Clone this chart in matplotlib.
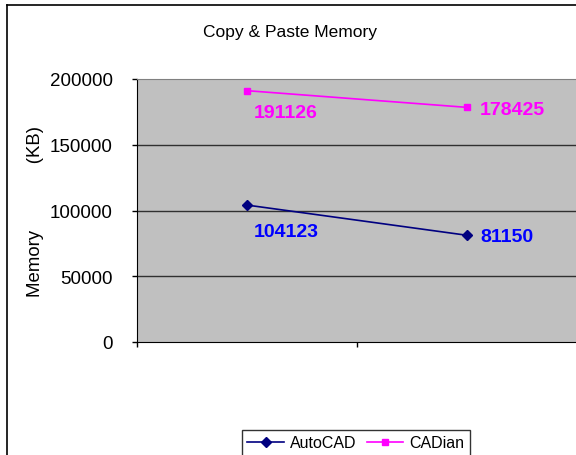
import matplotlib
matplotlib.use("Agg")
import matplotlib.pyplot as plt
from matplotlib.lines import Line2D

plt.rcParams['font.family'] = ['Liberation Sans', 'DejaVu Sans']

categories = ["Test 1", "Test 2"]
autocad = [104123, 81150]
cadian = [191126, 178425]
yticks = [0, 50000, 100000, 150000, 200000]

fig = plt.figure(figsize=(5.76, 4.56), dpi=100)
ax = fig.add_axes([137/576, 1-343/456, 440/576, 263/456])
ax.set_facecolor('#C0C0C0')

xs = [0.5, 1.5]
ax.plot(xs, autocad, color='#000080', marker='D', markersize=5, lw=1.2, label='AutoCAD')
ax.plot(xs, cadian, color='#FF00FF', marker='s', markersize=5, lw=1.2, label='CADian')

ax.set_xlim(0, 2)
ax.set_ylim(0, 200000)
ax.set_yticks(yticks)
ax.set_yticklabels([str(v) for v in yticks], fontsize=13.5)
ax.set_xticks([0, 1, 2])
ax.set_xticklabels([])
ax.tick_params(axis='both', direction='out', length=3.6, width=1, color='black')
ax.tick_params(axis='y', pad=14)
for v in yticks[1:-1]:
    ax.axhline(v, color='#303030', lw=1, zorder=1)
ax.spines['right'].set_visible(False)
ax.spines['top'].set_color('#808080')
ax.spines['left'].set_color('black')
ax.spines['bottom'].set_color('black')

# data labels
offsets_a = [(7, -26), (13, -1)]
offsets_c = [(7, -22), (13, -2)]
for x, v, off in zip(xs, autocad, offsets_a):
    ax.annotate(str(v), (x, v), xytext=off, textcoords='offset pixels',
                color='#0000FF', fontsize=14, fontweight='bold', va='center', ha='left')
for x, v, off in zip(xs, cadian, offsets_c):
    ax.annotate(str(v), (x, v), xytext=off, textcoords='offset pixels',
                color='#FF00FF', fontsize=14, fontweight='bold', va='center', ha='left')

ax.set_ylabel('Memory' + ' ' * 13 + '(KB)', fontsize=13.4, labelpad=4)
fig.text(290/576, 1-32/456, 'Copy & Paste Memory', fontsize=12.5, ha='center', va='center')

leg = fig.legend(loc='lower center', bbox_to_anchor=(356/576, -9/456), ncol=2,
                 fontsize=11.5, frameon=True, fancybox=False, edgecolor='black',
                 handlelength=2.3, columnspacing=0.6, handletextpad=0.4, borderpad=0.35)
leg.get_frame().set_linewidth(1)

# outer border
fig.add_artist(Line2D([7/576, 7/576], [0, 1-6/456], transform=fig.transFigure, color='black', lw=1.2))
fig.add_artist(Line2D([7/576, 1], [1-6/456, 1-6/456], transform=fig.transFigure, color='black', lw=1.2))

fig.savefig('out.png', dpi=100)
